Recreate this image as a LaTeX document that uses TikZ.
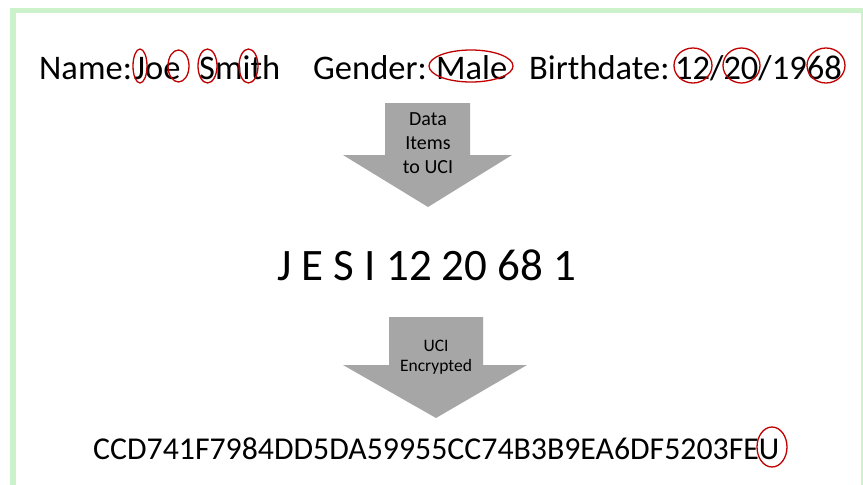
\documentclass[tikz,border=0pt]{standalone}
\usepackage{fontspec}
\setmainfont{Carlito}
\definecolor{framegreen}{RGB}{204,242,204}
\definecolor{circred}{RGB}{192,0,0}
\definecolor{arrowgray}{RGB}{166,166,166}
\tikzset{
  mark ring/.style={draw=circred, line width=1.3pt},
  block arrow/.style={fill=arrowgray, draw=none},
  big text/.style={inner sep=0pt, anchor=base west, font=\fontsize{34.5}{42}\selectfont},
}
\begin{document}
\begin{tikzpicture}[x=1pt,y=-1pt]
\useasboundingbox (0,0) rectangle (863,485);
\fill[white] (0,0) rectangle (863,485);
\draw[framegreen, line width=5.5pt] (13,10.5) rectangle (863.5,495);
% first line
\node[big text] (namelbl) at (39,79) {Name:};
\node[big text] (joe) at (134,79) {Joe};
\node[big text] (smith) at (199,79) {Smith};
\node[big text] (genderlbl) at (313,79) {Gender:};
\node[big text] (male) at (436,79) {Male};
\node[big text] (birthlbl) at (529,79) {Birthdate:};
\node[big text] (date) at (675,79) {12/20/1968};
% rings
\draw[mark ring] (140,66) ellipse [x radius=7, y radius=17];
\draw[mark ring] (178.5,66) ellipse [x radius=10.5, y radius=16];
\draw[mark ring] (207.5,66) ellipse [x radius=9.5, y radius=17];
\draw[mark ring] (248.5,66) ellipse [x radius=9.5, y radius=17];
\draw[mark ring] (471,66) ellipse [x radius=42, y radius=16];
\draw[mark ring] (693,65.5) ellipse [x radius=19, y radius=17.5];
\draw[mark ring] (741.5,65.5) ellipse [x radius=18.5, y radius=17.5];
\draw[mark ring] (826,65.5) ellipse [x radius=19, y radius=17.5];
% arrow 1
\fill[block arrow] (385,103) -- (470,103) -- (470,155) -- (512,155) -- (428,207) -- (343,155) -- (385,155) -- cycle;
\node[align=center, inner sep=0pt, font=\fontsize{20}{24}\selectfont] (a1text) at (428,143) {Data\\Items\\to UCI};
% UCI
\node[inner sep=0pt, anchor=base west, font=\fontsize{45}{52}\selectfont] (uci) at (277,280) {J E S I 12 20 68 1};
% arrow 2
\fill[block arrow] (389,317) -- (483,317) -- (483,365) -- (527,365) -- (436,418) -- (343,365) -- (389,365) -- cycle;
\node[align=center, inner sep=0pt, font=\fontsize{17.5}{20}\selectfont] (a2text) at (436,357) {UCI\\Encrypted};
% encrypted
\node[inner sep=0pt, anchor=base west, font=\fontsize{31.8}{38}\selectfont] (enc) at (93,459) {CCD741F7984DD5DA59955CC74B3B9EA6DF5203FEU};
\draw[mark ring] (772,447) ellipse [x radius=15, y radius=20];
\end{tikzpicture}
\end{document}
